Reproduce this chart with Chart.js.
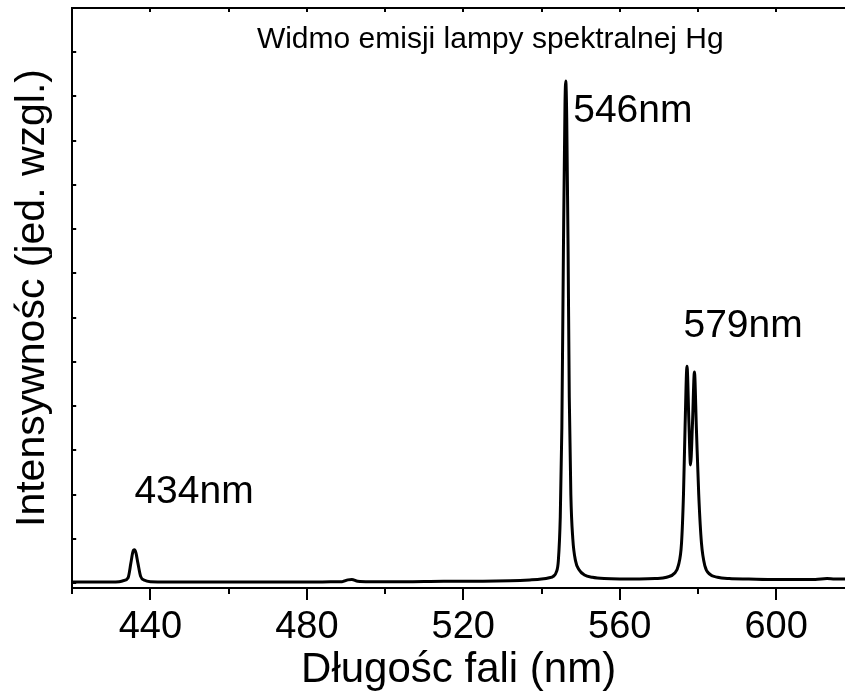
<!DOCTYPE html>
<html lang="pl">
<head>
<meta charset="UTF-8">
<title>Widmo emisji lampy spektralnej Hg</title>
<script src="https://cdn.jsdelivr.net/npm/chart.js"></script>
<style>
    html, body { margin: 0; padding: 0; background: #fff; }
    #wrap { width: 845px; height: 697px; }
</style>
</head>
<body>
<div id="wrap"><canvas id="spectrum"></canvas></div>
<script>
    // wavelength (nm) and relative intensity
    const wavelengths = [
        420, 425, 430, 432, 433, 434.3, 435.0, 435.5, 435.9, 436.3, 436.8, 437.5, 438.5, 440,
        450, 460, 470, 480, 486, 489, 490.5, 491.5, 493, 496, 505, 515, 525, 532, 537, 540,
        542, 543, 543.8, 544.3, 544.8, 545.2, 545.6, 546.0, 546.2, 546.45, 546.8, 547.1, 547.5,
        548.0, 548.7, 549.6, 551, 553, 556, 560, 565, 569, 572, 574, 575, 575.8, 576.3, 576.7,
        577.2, 577.7, 578.1, 578.6, 579.1, 579.6, 580.2, 580.9, 581.8, 583, 585, 588, 593, 600,
        606, 610, 613, 615, 617.6
    ];
    const intensity = [
        0.02, 0.02, 0.02, 0.03, 0.05, 0.12, 0.45, 0.70, 0.75, 0.68, 0.45, 0.15, 0.06, 0.03,
        0.02, 0.02, 0.02, 0.02, 0.03, 0.03, 0.07, 0.08, 0.04, 0.03, 0.03, 0.04, 0.04, 0.05, 0.07, 0.09,
        0.12, 0.15, 0.25, 0.5, 1.5, 3.5, 7.5, 10.8, 11.35, 10.5, 7.5, 4.2, 2.0,
        1.0, 0.5, 0.3, 0.18, 0.13, 0.10, 0.09, 0.09, 0.10, 0.13, 0.22, 0.40, 0.9, 2.0, 3.5,
        4.9, 3.6, 2.67, 3.6, 4.77, 3.5, 2.0, 0.9, 0.38, 0.20, 0.13, 0.10, 0.09, 0.08,
        0.08, 0.08, 0.10, 0.09, 0.09
    ];
    const xTickValues = [440, 480, 520, 560, 600];
    const xMinorValues = [420, 460, 500, 540, 580];
    const yTickValues = [0, 1, 2, 3, 4, 5, 6, 7, 8, 9, 10, 11, 12];
    const peakLabels = ["434nm", "546nm", "579nm"];
    const peakLabelX = [435.9, 548.1, 576.3];
    const peakLabelY = [1.81, 10.42, 5.56];

    const FONT = "'Liberation Sans', Arial, sans-serif";

    // frame, tick marks and text labels
    const framePlugin = {
        id: "frame",
        afterDraw(chart) {
            const ctx = chart.ctx;
            const area = chart.chartArea;
            const xs = chart.scales.x;
            const ys = chart.scales.y;
            ctx.save();
            ctx.strokeStyle = "#000";
            ctx.lineWidth = 2;

            // top border
            ctx.beginPath();
            ctx.moveTo(area.left, area.top);
            ctx.lineTo(area.right, area.top);
            ctx.stroke();

            // x ticks (outward at bottom, inward at top)
            const allX = xTickValues.concat(xMinorValues);
            allX.forEach(v => {
                const px = Math.round(xs.getPixelForValue(v));
                const len = xTickValues.includes(v) ? 12 : 6;
                ctx.beginPath();
                ctx.moveTo(px, area.bottom);
                ctx.lineTo(px, area.bottom + len);
                ctx.moveTo(px, area.top);
                ctx.lineTo(px, area.top + 4);
                ctx.stroke();
            });

            // y ticks (inward)
            yTickValues.forEach(v => {
                const py = Math.round(ys.getPixelForValue(v));
                ctx.beginPath();
                ctx.moveTo(area.left, py);
                ctx.lineTo(area.left + 4, py);
                ctx.stroke();
            });

            ctx.fillStyle = "#000";
            ctx.textBaseline = "alphabetic";

            // title inside the plot
            ctx.font = "30px " + FONT;
            ctx.textAlign = "center";
            ctx.fillText("Widmo emisji lampy spektralnej Hg", xs.getPixelForValue(526.9), ys.getPixelForValue(12.1));

            // peak labels
            ctx.font = "39px " + FONT;
            ctx.textAlign = "left";
            peakLabels.forEach((t, i) => {
                ctx.fillText(t, xs.getPixelForValue(peakLabelX[i]), ys.getPixelForValue(peakLabelY[i]));
            });
            ctx.restore();
        }
    };

    const ctx = document.getElementById("spectrum").getContext("2d");
    new Chart(ctx, {
        type: "line",
        data: {
            datasets: [{
                data: wavelengths.map((w, i) => ({ x: w, y: intensity[i] })),
                borderColor: "#000",
                borderWidth: 3,
                pointRadius: 0,
                fill: false,
                cubicInterpolationMode: "monotone"
            }]
        },
        options: {
            responsive: true,
            maintainAspectRatio: false,
            animation: false,
            layout: { padding: { left: 8, top: 8, right: 0, bottom: 1 } },
            plugins: {
                legend: { display: false },
                tooltip: { enabled: false }
            },
            scales: {
                x: {
                    type: "linear",
                    min: 420,
                    max: 617.6,
                    afterBuildTicks: scale => {
                        scale.ticks = xTickValues.map(v => ({ value: v }));
                    },
                    afterFit: scale => {
                        scale.height = 108;
                    },
                    ticks: {
                        color: "#000",
                        font: { family: FONT, size: 38 },
                        padding: 17,
                        maxRotation: 0,
                        autoSkip: false
                    },
                    grid: { display: false, drawTicks: false },
                    border: { display: true, color: "#000", width: 2 },
                    title: {
                        display: true,
                        text: "Długośc fali (nm)",
                        color: "#000",
                        font: { family: FONT, size: 42 },
                        padding: { top: 0, bottom: 0 }
                    }
                },
                y: {
                    min: -0.113,
                    max: 13,
                    ticks: { display: false },
                    grid: { display: false, drawTicks: false },
                    border: { display: true, color: "#000", width: 2 },
                    title: {
                        display: true,
                        text: "Intensywnośc (jed. wzgl.)",
                        color: "#000",
                        font: { family: FONT, size: 41 },
                        padding: { top: 0, bottom: 15 }
                    }
                }
            }
        },
        plugins: [framePlugin]
    });
</script>
</body>
</html>
